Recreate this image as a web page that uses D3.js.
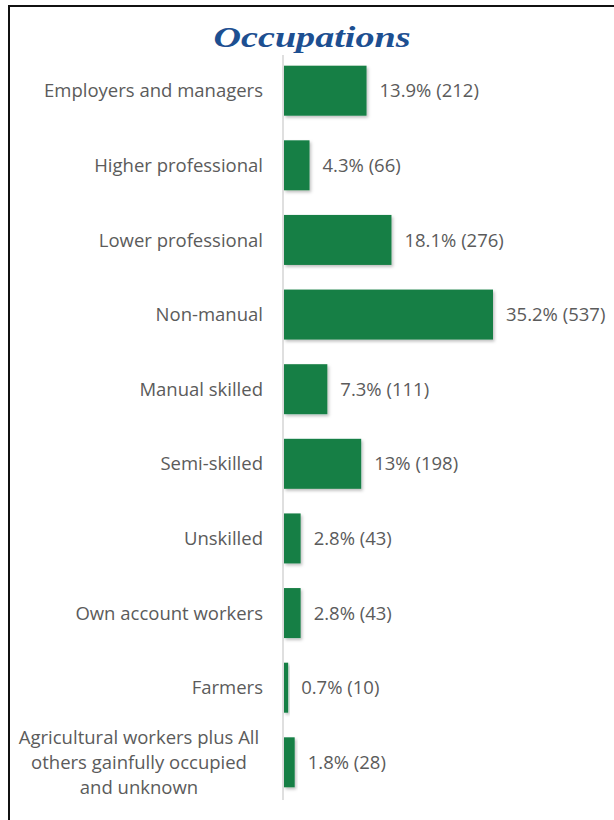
<!DOCTYPE html>
<html>
<head>
<meta charset="utf-8">
<script src="https://cdn.jsdelivr.net/npm/d3@7"></script>
<style>
  html, body { margin: 0; padding: 0; background: #fff; }
  svg { display: block; }
</style>
</head>
<body>
<svg id="chart" width="614" height="820"></svg>
<script>
// Occupation categories, shares (%) and counts
const categories = [
  "Employers and managers",
  "Higher professional",
  "Lower professional",
  "Non-manual",
  "Manual skilled",
  "Semi-skilled",
  "Unskilled",
  "Own account workers",
  "Farmers",
  "Agricultural workers plus All others gainfully occupied and unknown"
];
const percentLabels = ["13.9%", "4.3%", "18.1%", "35.2%", "7.3%", "13%", "2.8%", "2.8%", "0.7%", "1.8%"];
const percents = [13.9, 4.3, 18.1, 35.2, 7.3, 13, 2.8, 2.8, 0.7, 1.8];
const counts = [212, 66, 276, 537, 111, 198, 43, 43, 10, 28];
// Long category names are broken across lines
const labelLines = [
  ["Employers and managers"],
  ["Higher professional"],
  ["Lower professional"],
  ["Non-manual"],
  ["Manual skilled"],
  ["Semi-skilled"],
  ["Unskilled"],
  ["Own account workers"],
  ["Farmers"],
  ["Agricultural workers plus All", "others gainfully occupied", "and unknown"]
];

const svg = d3.select("#chart");
const W = 614, H = 820;
const textFont = "'Open Sans', 'Noto Sans', sans-serif";
const textColor = "#5b5b5b";

// Frame lines (top and left)
svg.append("line").attr("x1", 8).attr("x2", W).attr("y1", 6).attr("y2", 6)
  .attr("stroke", "#111").attr("stroke-width", 2);
svg.append("line").attr("x1", 9).attr("x2", 9).attr("y1", 5).attr("y2", H)
  .attr("stroke", "#111").attr("stroke-width", 2);

// Title
svg.append("text")
  .attr("x", 312).attr("y", 47)
  .attr("text-anchor", "middle")
  .attr("font-family", "'Liberation Serif', 'DejaVu Serif', serif")
  .attr("font-style", "italic").attr("font-weight", "bold")
  .attr("font-size", 30)
  .attr("fill", "#1d4f91")
  .attr("textLength", 197)
  .attr("lengthAdjust", "spacingAndGlyphs")
  .text("Occupations");

const x0 = 283;
const x = d3.scaleLinear().domain([0, 35.2]).range([x0, 492]);
const y = d3.scaleBand().domain(categories).range([53, 800]).paddingInner(0.33).paddingOuter(0.17);

// Soft shadow under bars
const defs = svg.append("defs");
const f = defs.append("filter").attr("id", "shadow").attr("x", "-20%").attr("y", "-20%").attr("width", "150%").attr("height", "150%");
f.append("feDropShadow").attr("dx", 1.5).attr("dy", 2).attr("stdDeviation", 1.5)
  .attr("flood-color", "#000").attr("flood-opacity", 0.25);

// Axis baseline
svg.append("line")
  .attr("x1", x0).attr("x2", x0).attr("y1", 55).attr("y2", 800)
  .attr("stroke", "#d4d4d4").attr("stroke-width", 1.5);

const g = svg.append("g");

g.selectAll("rect.bar").data(categories).join("rect")
  .attr("class", "bar")
  .attr("x", x0 + 1)
  .attr("y", d => y(d))
  .attr("width", (d, i) => x(percents[i]) - x0)
  .attr("height", y.bandwidth())
  .attr("fill", "#167f44")
  .attr("filter", "url(#shadow)");

// Value labels
g.selectAll("text.val").data(categories).join("text")
  .attr("class", "val")
  .attr("x", (d, i) => x(percents[i]) + 14)
  .attr("y", d => y(d) + y.bandwidth() / 2)
  .attr("dy", "0.36em")
  .attr("font-family", textFont)
  .attr("font-size", 18.5)
  .attr("fill", textColor)
  .text((d, i) => `${percentLabels[i]} (${counts[i]})`);

// Category labels
const lab = g.selectAll("text.cat").data(categories).join("text")
  .attr("class", "cat")
  .attr("font-family", textFont)
  .attr("font-size", 18.5)
  .attr("fill", textColor);

lab.each(function(d, i) {
  const lines = labelLines[i];
  const t = d3.select(this);
  const cy = y(d) + y.bandwidth() / 2;
  const lh = 25;
  const multi = lines.length > 1;
  t.attr("text-anchor", multi ? "middle" : "end");
  lines.forEach((ln, k) => {
    t.append("tspan")
      .attr("x", multi ? 139 : 263)
      .attr("y", cy + (k - (lines.length - 1) / 2) * lh)
      .attr("dy", "0.36em")
      .text(ln);
  });
});
</script>
</body>
</html>
